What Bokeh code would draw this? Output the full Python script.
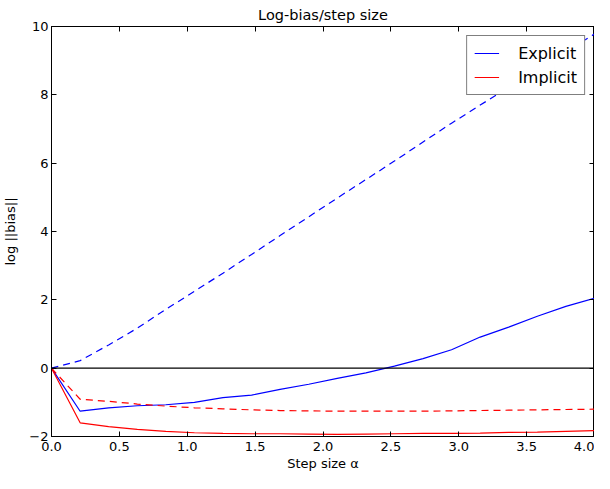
from bokeh.plotting import figure
from bokeh.models import (LinearAxis, Range1d, FixedTicker, Span,
                          NumeralTickFormatter)
from bokeh.embed import file_html
from bokeh.resources import INLINE

# ---- data ----
step = [0.0, 0.211, 0.421, 0.632, 0.842, 1.053, 1.263, 1.474, 1.684, 1.895,
        2.105, 2.316, 2.526, 2.737, 2.947, 3.158, 3.368, 3.579, 3.789, 4.0]
explicit_solid = [0.0, -1.26, -1.16, -1.10, -1.07, -1.00, -0.86, -0.79, -0.62, -0.47,
                  -0.30, -0.14, 0.06, 0.28, 0.54, 0.91, 1.20, 1.52, 1.81, 2.05]
explicit_dashed = [0.0, 0.22, 0.68, 1.17, 1.72, 2.25, 2.78, 3.33, 3.88, 4.43,
                   4.98, 5.52, 6.06, 6.62, 7.17, 7.70, 8.22, 8.74, 9.26, 9.78]
implicit_solid = [0.0, -1.60, -1.71, -1.79, -1.85, -1.89, -1.91, -1.92, -1.92, -1.93,
                  -1.94, -1.93, -1.92, -1.91, -1.91, -1.90, -1.88, -1.87, -1.85, -1.83]
implicit_dashed = [0.0, -0.91, -0.97, -1.05, -1.11, -1.16, -1.19, -1.22, -1.24, -1.25,
                   -1.26, -1.26, -1.26, -1.26, -1.25, -1.24, -1.23, -1.22, -1.21, -1.20]
x_ticks = [0.0, 0.5, 1.0, 1.5, 2.0, 2.5, 3.0, 3.5, 4.0]
y_ticks = [-2, 0, 2, 4, 6, 8, 10]
labels = ["Explicit", "Implicit"]

FONT = "DejaVu Sans"
BLUE = "#0000ff"
RED = "#ff0000"

p = figure(width=594, height=473, x_range=Range1d(0, 4), y_range=Range1d(-2, 10),
           output_backend="svg", toolbar_location=None, title="Log-bias/step size",
           min_border_left=43, min_border_right=0, min_border_top=0, min_border_bottom=0)
p.grid.visible = False
p.outline_line_color = "black"
p.outline_line_width = 1
p.background_fill_color = "white"
p.border_fill_color = "white"

p.title.align = "center"
p.title.text_font = FONT
p.title.text_color = "black"
p.title.text_font_style = "normal"
p.title.text_font_size = "14.5px"
p.title.standoff = 8


def style_axis(ax, ticks, show_labels=True):
    ax.ticker = FixedTicker(ticks=ticks)
    ax.major_tick_in = 5
    ax.major_tick_out = 0
    ax.minor_tick_line_color = None
    ax.axis_line_color = "black"
    ax.major_tick_line_color = "black"
    ax.major_label_text_font = FONT
    ax.major_label_text_font_size = "13px"
    if show_labels:
        ax.major_label_text_color = "black"
    else:
        ax.major_label_text_color = None
        ax.major_label_standoff = 0


xa = p.xaxis[0]
style_axis(xa, x_ticks)
xa.formatter = NumeralTickFormatter(format="0.0")
xa.major_label_standoff = 5
xa.axis_label = "Step size α"
xa.axis_label_standoff = 2
xa.axis_label_text_font = FONT
xa.axis_label_text_color = "black"
xa.axis_label_text_font_style = "normal"
xa.axis_label_text_font_size = "13px"

ya = p.yaxis[0]
style_axis(ya, y_ticks)
ya.major_label_standoff = 3
ya.major_label_overrides = {-2: "\u22122"}
ya.axis_label = "log ||bias||"
ya.axis_label_standoff = 8
ya.axis_label_text_font = FONT
ya.axis_label_text_color = "black"
ya.axis_label_text_font_style = "normal"
ya.axis_label_text_font_size = "13px"

top = LinearAxis()
style_axis(top, x_ticks, show_labels=False)
p.add_layout(top, "above")
right = LinearAxis()
style_axis(right, y_ticks, show_labels=False)
p.add_layout(right, "right")

p.add_layout(Span(location=0, dimension="width", line_color="black", line_width=1.2))

p.line(step, explicit_solid, line_color=BLUE, line_width=1.2, legend_label=labels[0])
p.line(step, explicit_dashed, line_color=BLUE, line_width=1.2, line_dash="7 5")
p.line(step, implicit_solid, line_color=RED, line_width=1.2, legend_label=labels[1])
p.line(step, implicit_dashed, line_color=RED, line_width=1.2, line_dash="7 5")

legend = p.legend[0]
legend.location = "top_right"
legend.margin = 9
legend.padding = 7
legend.spacing = 4
legend.glyph_width = 25
legend.glyph_height = 20
legend.label_standoff = 19
legend.label_text_font = FONT
legend.label_text_color = "black"
legend.label_text_font_size = "16px"
legend.border_line_color = "black"
legend.border_line_width = 1
legend.background_fill_color = "white"
legend.background_fill_alpha = 1.0

open("out.html", "w").write(file_html(p, INLINE))
